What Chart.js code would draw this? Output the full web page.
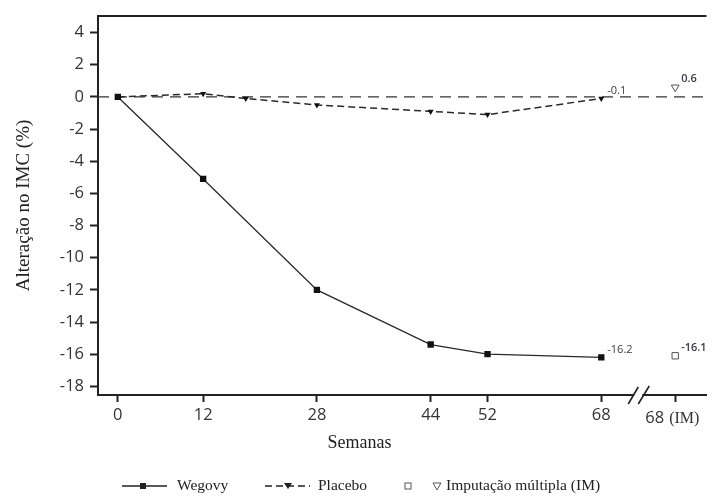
<!DOCTYPE html>
<html>
<head>
<meta charset="utf-8">
<script src="https://cdn.jsdelivr.net/npm/chart.js@4"></script>
<style>
  body { margin: 0; background: #fff; }
</style>
</head>
<body>
<canvas id="myChart" width="712" height="496"></canvas>
<script>
// values
var weeks = [0, 12, 28, 44, 52, 68];
var wegovy = [0, -5.1, -12.0, -15.4, -16.0, -16.2];
var placeboWeeks = [0, 12, 18, 28, 44, 52, 68];
var placebo = [0, 0.2, -0.1, -0.5, -0.9, -1.1, -0.1];
var imWeek = 78.4;      // axis slot used for "68 (IM)"
var breakWeek = 73.2;   // where the axis break sits
var wegovyIM = [-16.1];
var placeboIM = [0.6];
var xTicks = [0, 12, 28, 44, 52, 68, imWeek];
var yTicks = [-18, -16, -14, -12, -10, -8, -6, -4, -2, 0, 2, 4];

var sans = "'Open Sans', sans-serif";
var serif = "'Liberation Serif', serif";

function pts(xs, ys) {
    return xs.map(function (x, i) { return { x: x, y: ys[i] }; });
}

// extra drawing: zero line, frame, axis break, titles, value labels, legend
var extras = {
    id: "extras",
    beforeDatasetsDraw: function (chart) {
        var c = chart.ctx, a = chart.chartArea;
        var y0 = chart.scales.y.getPixelForValue(0);
        c.save();
        c.strokeStyle = "#333";
        c.lineWidth = 1.3;
        c.setLineDash([11, 7]);
        c.beginPath();
        c.moveTo(a.left, y0);
        c.lineTo(a.right, y0);
        c.stroke();
        c.restore();
    },
    afterDatasetsDraw: function (chart) {
        var c = chart.ctx;
        c.save();
        c.fillStyle = "#3a3a4a";
        c.textBaseline = "middle";
        c.textAlign = "left";
        chart.data.datasets.forEach(function (ds, i) {
            if (!ds.labelLast) return;
            var meta = chart.getDatasetMeta(i);
            var p = meta.data[meta.data.length - 1];
            var v = ds.data[ds.data.length - 1].y;
            c.font = (ds.boldLabel ? "600 " : "") + "11px " + sans;
            c.fillText(v.toFixed(1), p.x + 6, p.y - 8);
        });
        c.restore();
    },
    afterDraw: function (chart) {
        var c = chart.ctx, a = chart.chartArea;
        var xs = chart.scales.x;
        c.save();
        // top frame line
        c.strokeStyle = "#222";
        c.lineWidth = 2;
        c.beginPath();
        c.moveTo(a.left - 1, a.top);
        c.lineTo(a.right, a.top);
        c.stroke();

        // axis break
        var bx = xs.getPixelForValue(breakWeek);
        c.fillStyle = "#fff";
        c.fillRect(bx - 4, a.bottom - 3, 8, 6);
        c.strokeStyle = "#222";
        c.lineWidth = 1.6;
        c.beginPath();
        c.moveTo(bx - 10, a.bottom + 9);
        c.lineTo(bx, a.bottom - 8);
        c.moveTo(bx, a.bottom + 9);
        c.lineTo(bx + 11, a.bottom - 9);
        c.stroke();

        // "68 (IM)" tick label, number in sans, (IM) in serif
        var ix = xs.getPixelForValue(imWeek);
        var ly = a.bottom + 23;
        c.fillStyle = "#333";
        c.textBaseline = "middle";
        c.textAlign = "right";
        c.font = "16.5px " + sans;
        c.fillText("68", ix - 11, ly);
        c.textAlign = "left";
        c.font = "16px " + serif;
        c.fillText("(IM)", ix - 6, ly + 1);

        // x title, centred on the 0..68 span
        var mid = (xs.getPixelForValue(0) + xs.getPixelForValue(68)) / 2;
        c.fillStyle = "#222";
        c.textAlign = "center";
        c.font = "18px " + serif;
        c.fillText("Semanas", mid, a.bottom + 48);

        // legend
        var ly2 = 486;
        c.font = "15.5px " + serif;
        c.textAlign = "left";
        c.strokeStyle = "#222";
        c.fillStyle = "#222";
        c.lineWidth = 1.6;
        c.beginPath();
        c.moveTo(122, ly2);
        c.lineTo(167, ly2);
        c.stroke();
        c.fillRect(140, ly2 - 3, 6, 6);
        c.fillText("Wegovy", 177, ly2);

        c.setLineDash([7, 4]);
        c.beginPath();
        c.moveTo(265, ly2);
        c.lineTo(310, ly2);
        c.stroke();
        c.setLineDash([]);
        c.beginPath();
        c.moveTo(284, ly2 - 3);
        c.lineTo(292, ly2 - 3);
        c.lineTo(288, ly2 + 3);
        c.closePath();
        c.fill();
        c.fillText("Placebo", 318, ly2);

        c.strokeStyle = "#555";
        c.lineWidth = 1;
        c.strokeRect(405, ly2 - 3, 6, 6);
        c.beginPath();
        c.moveTo(433, ly2 - 3);
        c.lineTo(441, ly2 - 3);
        c.lineTo(437, ly2 + 4);
        c.closePath();
        c.stroke();
        c.fillStyle = "#222";
        c.fillText("Imputação múltipla (IM)", 446, ly2);
        c.restore();
    }
};

var ctx = document.getElementById("myChart").getContext("2d");
var myChart = new Chart(ctx, {
    type: "line",
    data: {
        datasets: [
            {
                label: "Wegovy",
                data: pts(weeks, wegovy),
                borderColor: "#2a2a2a",
                borderWidth: 1.3,
                pointStyle: "rect",
                pointRadius: 4.5,
                pointBackgroundColor: "#111",
                pointBorderColor: "#111",
                pointBorderWidth: 0,
                tension: 0,
                labelLast: true,
            },
            {
                label: "Placebo",
                data: pts(placeboWeeks, placebo),
                borderColor: "#2a2a2a",
                borderWidth: 1.5,
                borderDash: [7, 4],
                pointStyle: "triangle",
                rotation: 180,
                pointRadius: 3.5,
                pointBackgroundColor: "#111",
                pointBorderColor: "#111",
                pointBorderWidth: 0,
                tension: 0,
                labelLast: true,
            },
            {
                label: "Wegovy IM",
                data: pts([imWeek], wegovyIM),
                showLine: false,
                pointStyle: "rect",
                pointRadius: 4.5,
                pointBackgroundColor: "#fff",
                pointBorderColor: "#555",
                pointBorderWidth: 1,
                labelLast: true,
                boldLabel: true,
            },
            {
                label: "Placebo IM",
                data: pts([imWeek], placeboIM),
                showLine: false,
                pointStyle: "triangle",
                rotation: 180,
                pointRadius: 4.5,
                pointBackgroundColor: "#fff",
                pointBorderColor: "#555",
                pointBorderWidth: 1,
                labelLast: true,
                boldLabel: true,
            },
        ],
    },
    options: {
        responsive: false,
        animation: false,
        layout: { padding: { top: 12, right: 0, bottom: 50, left: 0 } },
        plugins: {
            legend: { display: false },
            tooltip: { enabled: false },
        },
        scales: {
            x: {
                type: "linear",
                min: -2.79,
                max: 82.8,
                afterFit: function (s) { s.height = 51; },
                afterBuildTicks: function (s) {
                    s.ticks = xTicks.map(function (v) { return { value: v }; });
                },
                ticks: {
                    autoSkip: false,
                    maxRotation: 0,
                    padding: 3,
                    color: "#333",
                    font: { family: sans, size: 16.5 },
                    callback: function (v) { return v === imWeek ? "" : v; },
                },
                grid: {
                    drawOnChartArea: false,
                    drawTicks: true,
                    tickLength: 7,
                    tickColor: "#222",
                    tickWidth: 2,
                },
                border: { color: "#222", width: 2 },
            },
            y: {
                min: -18.54,
                max: 5.04,
                afterFit: function (s) { s.width = 98; },
                afterBuildTicks: function (s) {
                    s.ticks = yTicks.map(function (v) { return { value: v }; });
                },
                ticks: {
                    autoSkip: false,
                    padding: 6,
                    color: "#333",
                    font: { family: sans, size: 16.5 },
                },
                grid: {
                    drawOnChartArea: false,
                    drawTicks: true,
                    tickLength: 8,
                    tickColor: "#222",
                    tickWidth: 2,
                },
                border: { color: "#222", width: 2 },
                title: {
                    display: true,
                    text: "Alteração no IMC (%)",
                    color: "#222",
                    font: { family: serif, size: 19 },
                    padding: { top: 13, bottom: 0 },
                },
            },
        },
    },
    plugins: [extras],
});
</script>
</body>
</html>
